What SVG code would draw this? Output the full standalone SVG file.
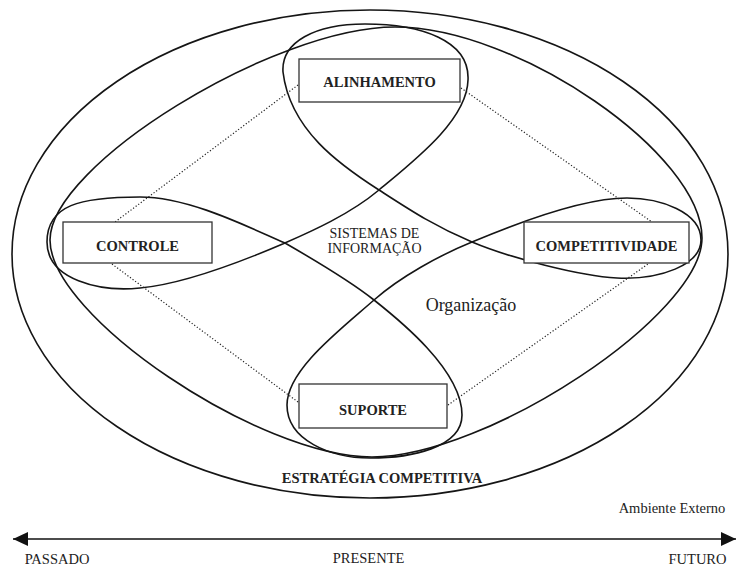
<svg xmlns="http://www.w3.org/2000/svg" width="738" height="569" viewBox="0 0 738 569">
<style>
.curve{fill:none;stroke:#151515;stroke-width:1.6}
.box{fill:#fff;stroke:#333;stroke-width:1.3}
.dot{fill:none;stroke:#222;stroke-width:1.2;stroke-dasharray:1.2 2}
.lb{font-family:"Liberation Serif","Times New Roman",serif;font-weight:bold;font-size:14.5px;fill:#222;text-anchor:middle}
.lr{font-family:"Liberation Serif","Times New Roman",serif;font-size:14.5px;fill:#222;text-anchor:middle}
</style>
<defs>
<marker id="ah" viewBox="0 0 15 14" refX="15" refY="7" markerWidth="15" markerHeight="14" markerUnits="userSpaceOnUse" orient="auto-start-reverse">
<path d="M0,0 L15,7 L0,14 Z" fill="#111"/>
</marker>
</defs>
<g id="ambiente">
<ellipse class="curve" cx="370" cy="254" rx="358" ry="244"/>
<text class="lr" x="672" y="513" font-size="15">Ambiente Externo</text>
</g>
<g id="organizacao">
<path class="curve" d="M50,240 C50,165 274,27 395,27 C518,27 702,154 702,238 C702,315 487,457 372,457 C259,457 50,316 50,240 Z"/>
<text class="lr" x="471" y="311" style="font-size:18px">Organização</text>
<text class="lb" x="382" y="483">ESTRATÉGIA COMPETITIVA</text>
</g>
<g id="sistemas">
<path class="curve" d="M379,190 C340,165 290,130 283,72 C281,42 315,24 365,24 C420,24 470,40 468,80 C467,120 415,160 379,190 C349,215 310,232 285,243 C250,258 185,284 140,288 C100,292 47,280 47,242 C47,205 80,197 140,197 C190,197 250,228 285,243 C318,262 350,281 374,300 C398,319 462,370 462,415 C462,448 410,458 370,458 C330,458 287,440 287,405 C287,370 340,330 374,300 C400,277 440,255 472,242 C510,226 580,198 627,198 C660,198 701,212 701,240 C701,265 660,280 617,278 C580,276 510,258 472,242 C434,226 410,210 379,190 Z"/>
<text class="lr" x="374.5" y="238" style="font-size:14px">SISTEMAS DE</text>
<text class="lr" x="374.5" y="253" style="font-size:14px">INFORMAÇÃO</text>
</g>
<g id="connectors">
<line class="dot" x1="298" y1="85" x2="115" y2="222"/>
<line class="dot" x1="461" y1="88" x2="652" y2="222"/>
<line class="dot" x1="112" y1="264" x2="298" y2="402"/>
<line class="dot" x1="448" y1="405" x2="648" y2="264"/>
<line x1="13" y1="539" x2="736" y2="539" stroke="#111" stroke-width="1.3" marker-start="url(#ah)" marker-end="url(#ah)"/>
</g>
<g id="alinhamento">
<rect class="box" x="299" y="59" width="161" height="43"/>
<text class="lb" x="379.5" y="87">ALINHAMENTO</text>
</g>
<g id="controle">
<rect class="box" x="63" y="222" width="149" height="41"/>
<text class="lb" x="137.5" y="251">CONTROLE</text>
</g>
<g id="competitividade">
<rect class="box" x="524" y="222" width="165" height="41"/>
<text class="lb" x="606.5" y="251">COMPETITIVIDADE</text>
</g>
<g id="suporte">
<rect class="box" x="299" y="384" width="148" height="44"/>
<text class="lb" x="373" y="415">SUPORTE</text>
</g>
<g id="tempo">
<text class="lr" x="57" y="564">PASSADO</text>
<text class="lr" x="368.5" y="563">PRESENTE</text>
<text class="lr" x="697.5" y="564">FUTURO</text>
</g>
</svg>
